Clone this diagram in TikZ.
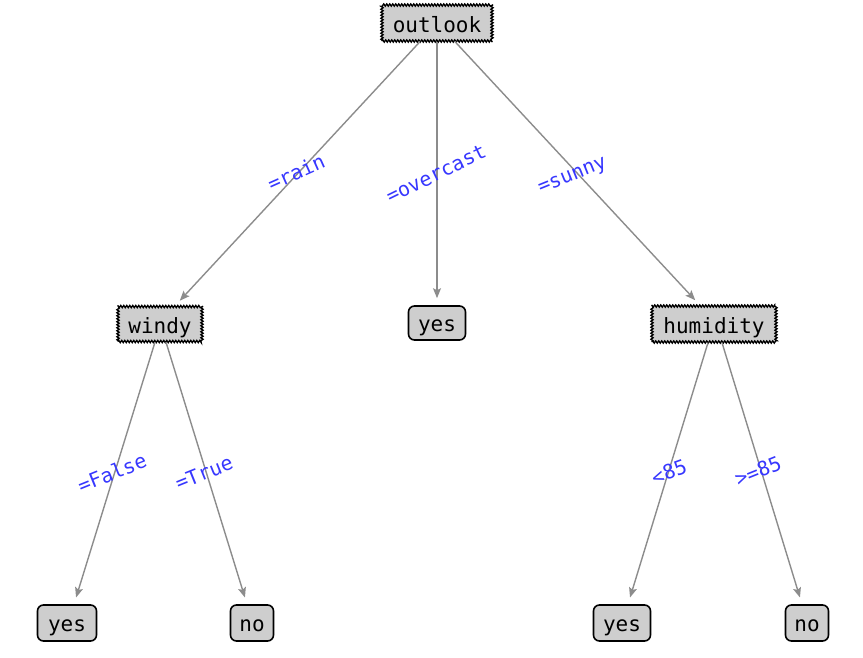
\documentclass[tikz,border=0pt]{standalone}
\usepackage{fontspec}
\setmonofont{DejaVu Sans Mono}
\usetikzlibrary{arrows.meta,decorations.pathmorphing}
\definecolor{nodegray}{RGB}{206,206,206}
\definecolor{edgegray}{RGB}{140,140,140}
\definecolor{lblblue}{RGB}{55,55,255}
\tikzset{
  inner/.style={rectangle, fill=nodegray, draw=black, line width=1.3pt,
    decorate, decoration={zigzag, segment length=3pt, amplitude=1.1pt},
    font=\ttfamily\fontsize{21}{21}\selectfont, inner sep=0pt, text height=18pt, text depth=0pt},
  leaf/.style={rectangle, rounded corners=6pt, fill=nodegray, draw=black, line width=1.6pt,
    font=\ttfamily\fontsize{21}{21}\selectfont, inner sep=0pt, text height=17pt, text depth=0pt},
  edge/.style={draw=edgegray, line width=1.4pt, -{Stealth[length=10pt,width=8pt,inset=2pt]}, shorten >=7pt},
  lbl/.style={text=lblblue, font=\ttfamily\fontsize{20}{20}\selectfont, inner sep=0pt}
}
\begin{document}
\begin{tikzpicture}[x=1pt,y=-1pt]
\useasboundingbox (0,0) rectangle (863,657);
% inner nodes
\node[inner, minimum width=110pt, minimum height=36pt] (outlook) at (437,23) {outlook};
\node[inner, minimum width=84pt, minimum height=35pt] (windy) at (160,324) {windy};
\node[inner, minimum width=124pt, minimum height=36pt] (humidity) at (714,324) {humidity};
% leaves
\node[leaf, minimum width=57pt, minimum height=34pt] (yes1) at (437,323) {yes};
\node[leaf, minimum width=59pt, minimum height=36pt] (yes2) at (67,623) {yes};
\node[leaf, minimum width=43pt, minimum height=36pt] (no1) at (252,623) {no};
\node[leaf, minimum width=57pt, minimum height=36pt] (yes3) at (622,623) {yes};
\node[leaf, minimum width=43pt, minimum height=36pt] (no2) at (807,623) {no};
% edges
\draw[edge] ([xshift=-17pt]outlook.south) -- ([xshift=15pt]windy.north);
\draw[edge] (outlook.south) -- (yes1.north);
\draw[edge] ([xshift=18pt]outlook.south) -- ([xshift=-14pt]humidity.north);
\draw[edge] ([xshift=-5pt]windy.south) -- ([xshift=7pt]yes2.north);
\draw[edge] ([xshift=6pt]windy.south) -- ([xshift=-5pt]no1.north);
\draw[edge] ([xshift=-6pt]humidity.south) -- ([xshift=6pt]yes3.north);
\draw[edge] ([xshift=8pt]humidity.south) -- ([xshift=-5pt]no2.north);
% labels
\node[lbl, rotate=24] (lrain) at (296,172) {=rain};
\node[lbl, rotate=26] (lover) at (436,174) {=overcast};
\node[lbl, rotate=22] (lsunny) at (573,177) {=sunny};
\node[lbl, rotate=22] (lfalse) at (112,473) {=False};
\node[lbl, rotate=22] (ltrue) at (204,473) {=True};
\node[lbl, rotate=20] (llt) at (669,472) {<85};
\node[lbl, rotate=22] (lge) at (758,471) {>=85};
\end{tikzpicture}
\end{document}
